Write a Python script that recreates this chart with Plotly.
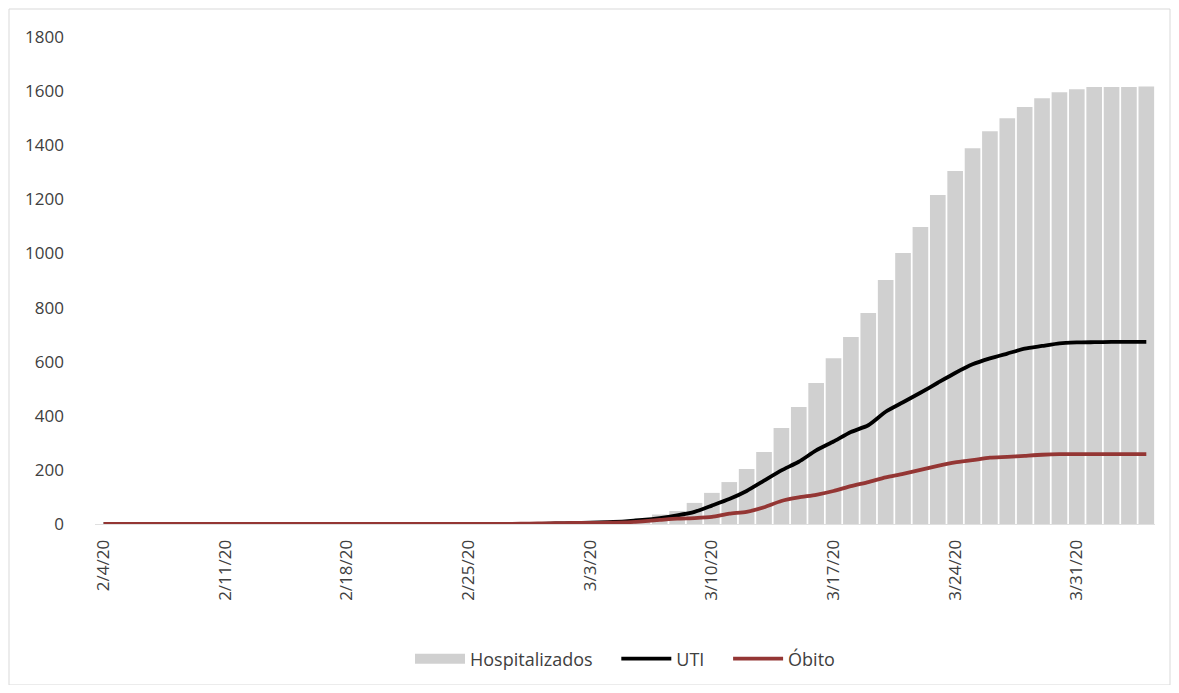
import datetime as dt
import plotly.graph_objects as go

# Categories: daily dates 2/4/20 .. 4/4/20
start = dt.date(2020, 2, 4)
dates = [start + dt.timedelta(days=i) for i in range(61)]
categories = [f"{d.month}/{d.day}/{d.year % 100}" for d in dates]

# Values from 3/1/20 onward (earlier days are zero)
hosp_tail = [1, 3, 5, 8, 14, 22, 35, 48, 78, 115, 155, 203, 266, 355, 432, 521, 613, 691,
             780, 902, 1002, 1098, 1216, 1305, 1389, 1452, 1500, 1541, 1574, 1596, 1607,
             1615, 1615, 1615, 1617]
uti_tail = [2, 3, 5, 7, 10, 15, 22, 32, 45, 68, 92, 122, 160, 198, 230, 272, 305, 340,
            365, 415, 450, 485, 522, 558, 590, 612, 630, 648, 658, 668, 671, 672, 673, 673, 673]
obito_tail = [3, 4, 4, 5, 6, 10, 15, 20, 22, 26, 38, 45, 62, 85, 98, 108, 122, 140,
              155, 172, 185, 200, 215, 228, 236, 245, 248, 252, 256, 258, 258, 258, 258, 258, 258]
obito_pre = [1, 2]  # 2/28, 2/29

n_zero = len(categories) - len(hosp_tail)
hospitalizados = [0] * n_zero + hosp_tail
uti = [0] * n_zero + uti_tail
obito = [0] * (n_zero - 2) + obito_pre + obito_tail

tick_labels = categories[::7]

BAR_COLOR = "#d0d0d0"
GAP = "\u00a0" * 4

fig = go.Figure()
fig.add_trace(go.Bar(x=categories, y=hospitalizados, name="Hospitalizados",
                     marker=dict(color=BAR_COLOR, line=dict(width=0)),
                     legendgroup="h", showlegend=False))
# legend entry drawn as a wide grey swatch
fig.add_trace(go.Scatter(x=[None], y=[None], name="Hospitalizados" + GAP, mode="lines",
                         line=dict(color=BAR_COLOR, width=12), legendgroup="h"))
fig.add_trace(go.Scatter(x=categories, y=uti, name="UTI" + GAP, mode="lines",
                         line=dict(color="#000000", width=3.8, shape="spline", smoothing=0.6)))
fig.add_trace(go.Scatter(x=categories, y=obito, name="Óbito", mode="lines",
                         line=dict(color="#943634", width=3.8, shape="spline", smoothing=0.6)))

# page body has an 8px margin, so everything is laid out 8px up/left
OFF = 8
W, H = 1179 - 2 * OFF, 693 - 2 * OFF
L = 95 - OFF
T = 37 - OFF
plot_right = 1155 - OFF
plot_bottom = 524 - OFF
R = W - plot_right
B = H - plot_bottom
pw, ph = W - L - R, H - T - B

def px(x):
    return (x - OFF - L) / pw

def py(y):
    return (plot_bottom - (y - OFF)) / ph

fig.update_layout(
    width=W, height=H,
    margin=dict(l=L, r=R, t=T, b=B, autoexpand=False),
    paper_bgcolor="white", plot_bgcolor="white",
    font=dict(family="Open Sans, Liberation Sans, sans-serif", size=17, color="#404040"),
    bargap=0.1,
    showlegend=True,
    legend=dict(orientation="h", x=0.5, xanchor="center", y=py(659), yanchor="middle",
                font=dict(size=18, color="#404040"), traceorder="normal", itemwidth=50),
    xaxis=dict(type="category", tickmode="array", tickvals=tick_labels, ticktext=tick_labels,
               tickangle=-90, showgrid=False, showline=True, linecolor="#e0e0e0",
               ticks="", zeroline=False, range=[-0.5, len(categories) - 0.5],
               ticklabelstandoff=8),
    yaxis=dict(range=[0, 1800], dtick=200, showgrid=False, zeroline=False, showline=False,
               ticks="", ticklabelstandoff=30),
    shapes=[dict(type="rect", xref="paper", yref="paper",
                 x0=px(9), x1=px(1170), y0=py(9), y1=py(685),
                 line=dict(color="#d9d9d9", width=1), fillcolor="rgba(0,0,0,0)", layer="below")],
)

fig.write_html("out.html")
